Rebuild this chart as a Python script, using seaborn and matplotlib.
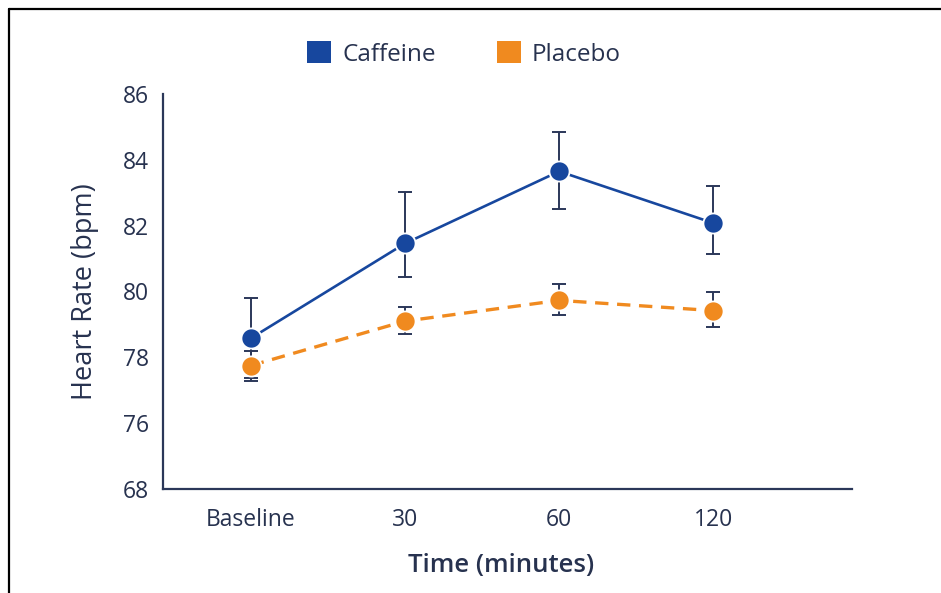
import numpy as np
import pandas as pd
import matplotlib
matplotlib.use("Agg")
import matplotlib.pyplot as plt
from matplotlib.lines import Line2D
from matplotlib.patches import Patch
import seaborn as sns

# values
time_labels = ["Baseline", "30", "60", "120"]
caffeine_mean = [78.58, 81.46, 83.65, 82.08]
caffeine_upper = [79.80, 83.02, 84.84, 83.22]
caffeine_lower = [77.36, 80.43, 82.50, 81.15]
placebo_mean = [77.75, 79.10, 79.73, 79.42]
placebo_upper = [78.20, 79.54, 80.24, 79.98]
placebo_lower = [77.28, 78.71, 79.29, 78.92]

# y axis is broken: the lowest tick reads 68 but sits one step below 76
ytick_pos = [74, 76, 78, 80, 82, 84, 86]
ytick_labels = ["68", "76", "78", "80", "82", "84", "86"]

blue = "#17479e"
orange = "#f08a1f"
navy = "#2b3759"
text_col = "#27324f"

sns.set_theme(style="white")
plt.rcParams["font.family"] = ["Open Sans", "DejaVu Sans"]

x = np.arange(len(time_labels))
df = pd.DataFrame({
    "pos": np.concatenate([x, x]),
    "hr": caffeine_mean + placebo_mean,
    "group": ["Caffeine"] * 4 + ["Placebo"] * 4,
})

fig = plt.figure(figsize=(9.41, 5.93), dpi=100)
ax = fig.add_axes([163 / 941, 1 - 489 / 593, (852 - 163) / 941, (489 - 94) / 593])

# error bars first so the markers sit on top
for mean, lo, hi in [(caffeine_mean, caffeine_lower, caffeine_upper),
                     (placebo_mean, placebo_lower, placebo_upper)]:
    m = np.array(mean)
    yerr = [m - np.array(lo), np.array(hi) - m]
    ax.errorbar(x, m, yerr=yerr, fmt="none", ecolor=navy, elinewidth=1.4,
                capsize=5, capthick=1.4, zorder=2)

sns.lineplot(data=df[df.group == "Caffeine"], x="pos", y="hr", color=blue,
             lw=1.9, marker="o", markersize=14.5, markeredgecolor="white",
             markeredgewidth=1.3, ax=ax, zorder=3)
sns.lineplot(data=df[df.group == "Placebo"], x="pos", y="hr", color=orange,
             lw=2.4, marker="o", markersize=14.5, markeredgecolor="white",
             markeredgewidth=1.3, ax=ax, zorder=3, linestyle=(0, (4, 2.6)))

ax.set_xlim(-0.57, 3.9)
ax.set_ylim(74, 86)
ax.set_xticks(x)
ax.set_xticklabels(time_labels)
ax.set_yticks(ytick_pos)
ax.set_yticklabels(ytick_labels)

for side in ["top", "right"]:
    ax.spines[side].set_visible(False)
for side in ["left", "bottom"]:
    ax.spines[side].set_color(navy)
    ax.spines[side].set_linewidth(1.6)

ax.tick_params(axis="both", colors=navy, labelcolor=text_col, labelsize=16.5,
               width=1.3, length=6, direction="out")
ax.tick_params(axis="x", pad=8)
ax.tick_params(axis="y", pad=4)
ax.set_xlabel("Time (minutes)", fontsize=18.5, color=text_col,
              fontweight="semibold", labelpad=15)
ax.xaxis.label.set_x(0.49)
ax.set_ylabel("Heart Rate (bpm)", fontsize=19.5, color=text_col, labelpad=17)

handles = [Patch(facecolor=blue, edgecolor="none", label="Caffeine"),
           Patch(facecolor=orange, edgecolor="none", label="Placebo")]
fig.legend(handles=handles, loc="center", bbox_to_anchor=(464 / 941, 1 - 54 / 593),
           ncol=2, frameon=False, fontsize=17.5, handlelength=1.0, handleheight=1.0,
           columnspacing=2.5, handletextpad=0.45, labelcolor=text_col)

# black frame of the screenshot (left and top edges)
fig.add_artist(Line2D([9 / 941, 9 / 941], [0, 1 - 9 / 593], color="black", lw=1.6))
fig.add_artist(Line2D([9 / 941, 1], [1 - 9 / 593, 1 - 9 / 593], color="black", lw=1.6))

fig.savefig("out.png", dpi=100)
